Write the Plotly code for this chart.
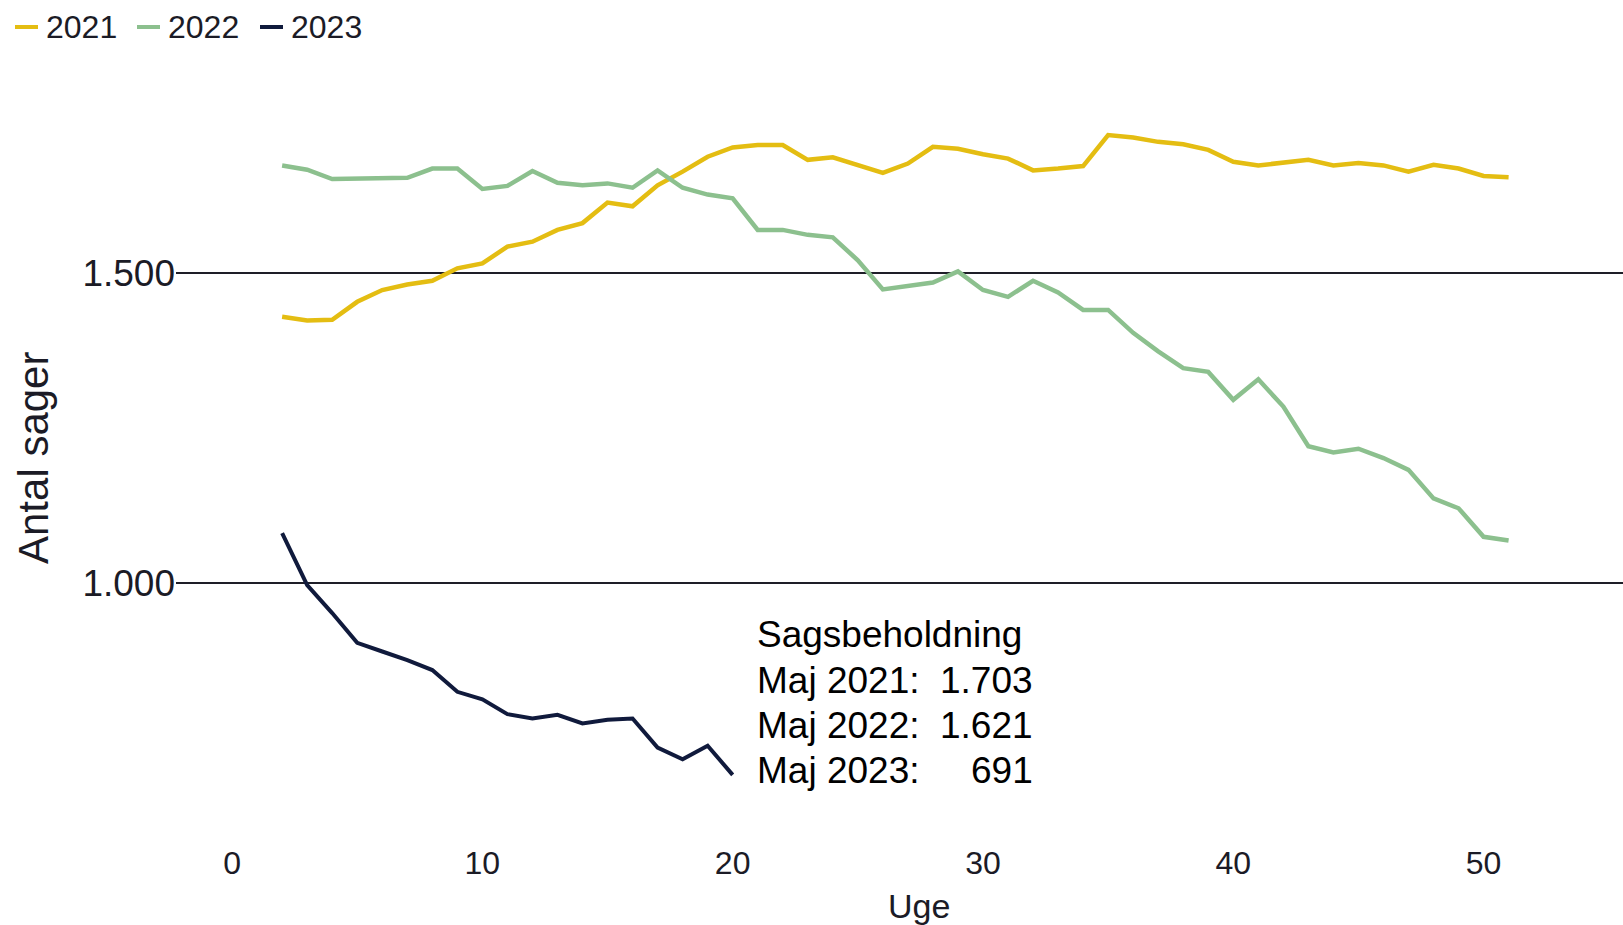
import plotly.graph_objects as go

# ---------------- data ----------------
series_names = ["2021", "2022", "2023"]
weeks_2021 = list(range(2, 52))
values_2021 = [1430, 1424, 1425, 1454, 1473, 1482, 1488, 1508, 1516, 1543,
               1551, 1570, 1581, 1614, 1608, 1642, 1664, 1688, 1703, 1707,
               1707, 1683, 1687, 1675, 1662, 1677, 1704, 1701, 1692, 1685,
               1666, 1669, 1673, 1723, 1719, 1712, 1708, 1699, 1680, 1674,
               1678, 1683, 1674, 1678, 1674, 1664, 1675, 1669, 1657, 1655]
weeks_2022 = list(range(2, 52))
values_2022 = [1674, 1667, 1652, 1653, 1653, 1654, 1669, 1669, 1636, 1641,
               1665, 1646, 1642, 1645, 1638, 1666, 1638, 1627, 1621, 1570,
               1570, 1562, 1558, 1521, 1474, 1479, 1485, 1503, 1473, 1462,
               1488, 1469, 1441, 1441, 1404, 1374, 1347, 1341, 1296, 1329,
               1285, 1221, 1211, 1217, 1202, 1183, 1137, 1121, 1075, 1069]
weeks_2023 = list(range(2, 21))
values_2023 = [1081, 997, 952, 904, 890, 876, 860, 825, 813, 789,
               782, 788, 774, 780, 782, 735, 716, 738, 691]

x_tick_values = [0, 10, 20, 30, 40, 50]
y_tick_values = [1000, 1500]
x_title = "Uge"
y_title = "Antal sager"
note_title = "Sagsbeholdning"
note_labels = ["Maj 2021:", "Maj 2022:", "Maj 2023:"]
note_values = [1703, 1621, 691]

# ---------------- style ----------------
colors = ["#E4BD12", "#8CC08E", "#101A3C"]
widths = [4.5, 4.5, 4]
FONT = "Arial, Liberation Sans, sans-serif"
TXT = "#1B1B26"

W, H = 1623, 925
L, R, T, B = 176, 1623, 80, 830


def xp(px):
    return (px - L) / (R - L)


def yp(py):
    return (B - py) / (B - T)


def dk(n):
    return f"{n:,}".replace(",", ".")


fig = go.Figure()
for name, xs, ys, c, w in zip(series_names,
                              [weeks_2021, weeks_2022, weeks_2023],
                              [values_2021, values_2022, values_2023],
                              colors, widths):
    fig.add_trace(go.Scatter(x=xs, y=ys, mode="lines", name=name,
                             line=dict(color=c, width=w), showlegend=False))

shapes = []
annotations = []

# custom legend (top-left)
leg_line_x = [15, 137, 260]
for name, c, lx in zip(series_names, colors, leg_line_x):
    shapes.append(dict(type="line", xref="paper", yref="paper",
                       x0=xp(lx), x1=xp(lx + 23), y0=yp(27), y1=yp(27),
                       line=dict(color=c, width=4)))
    annotations.append(dict(text=name, xref="paper", yref="paper",
                            x=xp(lx + 29), y=yp(27), xanchor="left",
                            yanchor="middle", showarrow=False,
                            font=dict(family=FONT, size=32, color=TXT)))

# note block
line_y = [634, 680, 725, 770]
annotations.append(dict(text=note_title, xref="paper", yref="paper",
                        x=xp(755), y=yp(line_y[0]), xanchor="left",
                        yanchor="middle", showarrow=False,
                        font=dict(family=FONT, size=37, color="#000000")))
for lab, val, ly in zip(note_labels, note_values, line_y[1:]):
    annotations.append(dict(text=lab, xref="paper", yref="paper",
                            x=xp(755), y=yp(ly), xanchor="left",
                            yanchor="middle", showarrow=False,
                            font=dict(family=FONT, size=37, color="#000000")))
    annotations.append(dict(text=dk(val), xref="paper", yref="paper",
                            x=xp(1035), y=yp(ly), xanchor="right",
                            yanchor="middle", showarrow=False,
                            font=dict(family=FONT, size=37, color="#000000")))

# axis titles
annotations.append(dict(text=x_title, xref="paper", yref="paper",
                        x=xp(919), y=yp(906), xanchor="center",
                        yanchor="middle", showarrow=False,
                        font=dict(family=FONT, size=34, color=TXT)))
annotations.append(dict(text=y_title, xref="paper", yref="paper",
                        x=xp(33), y=yp(458), xanchor="center",
                        yanchor="middle", textangle=-90, showarrow=False,
                        font=dict(family=FONT, size=42, color=TXT)))

x0_val = -2.24
x1_val = 55.57
y0_val = 1000 - (B - 583.3) / 0.62
y1_val = 1500 + (273.3 - T) / 0.62

fig.update_layout(
    width=W, height=H, autosize=False,
    margin=dict(l=L, r=W - R, t=T, b=H - B, pad=0),
    paper_bgcolor="white", plot_bgcolor="white",
    separators=",.",
    shapes=shapes, annotations=annotations,
    font=dict(family=FONT, color=TXT),
    xaxis=dict(range=[x0_val, x1_val], tickvals=x_tick_values,
               showgrid=False, zeroline=False, showline=False, ticks="",
               ticklabelstandoff=11,
               tickfont=dict(size=32, color=TXT, family=FONT)),
    yaxis=dict(range=[y0_val, y1_val], tickvals=y_tick_values,
               tickformat=",d", showgrid=True, gridcolor="#1E1E28",
               gridwidth=2, zeroline=False, showline=False, ticks="",
               tickfont=dict(size=37, color=TXT, family=FONT)),
)

fig.write_html("out.html", include_plotlyjs=True, full_html=True,
               config={"displayModeBar": False},
               post_script="document.body.style.margin='0';document.body.style.overflow='hidden';")
